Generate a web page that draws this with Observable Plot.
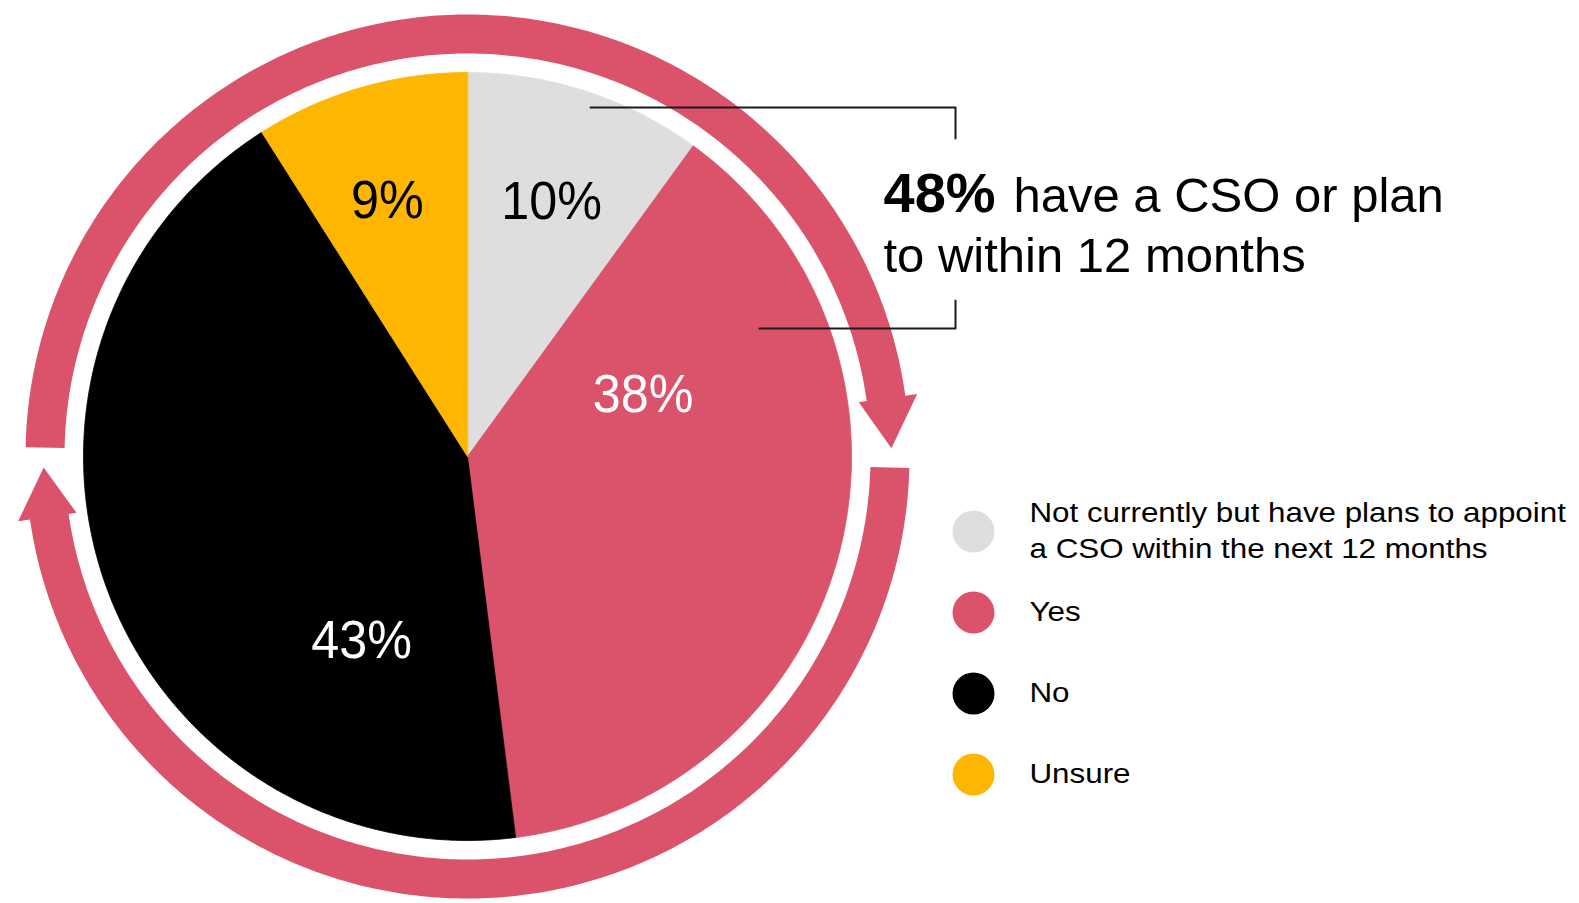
<!DOCTYPE html>
<html>
<head>
<meta charset="utf-8">
<script src="https://cdn.jsdelivr.net/npm/d3@7"></script>
<script src="https://cdn.jsdelivr.net/npm/@observablehq/plot@0.6"></script>
<style>
  html, body { margin: 0; padding: 0; background: #fff; }
  #chart svg { display: block; }
</style>
</head>
<body>
<div id="chart"></div>
<script>
// ---------------- DATA ----------------
const categories = ["Plans within 12 months", "Yes", "No", "Unsure"];
const legendLabels = [
  "Not currently but have plans to appoint\na CSO within the next 12 months",
  "Yes",
  "No",
  "Unsure"
];
const values = [10, 38, 43, 9];
const annotationLines = ["have a CSO or plan", "to within 12 months"];

// ---------------- STYLE / LAYOUT ----------------
const colors = ["#dedede", "#db536a", "#000000", "#ffb600"];
const labelColors = ["#000000", "#ffffff", "#ffffff", "#000000"];
const ringColor = "#db536a";
const FONT = "Liberation Sans, Arial, Helvetica, sans-serif";
const W = 1579, H = 903;
const CX = 467, CY = 456;           // pie centre (px)
const R = 384;                       // pie radius (px)
const RING_IN = 403, RING_OUT = 442; // circular arrow band
const WING_OUT = 454, WING_IN = 395, TIP_R = 424;
// label placement (polar: degrees clockwise from 12 o'clock, radius px)
const labelPlacement = [
  {angle: 18.3, radius: 268},
  {angle: 70.7, radius: 186},
  {angle: 209.8, radius: 213},
  {angle: 342.6, radius: 268}
];

// ---------------- GEOMETRY ----------------
const arcs = d3.pie().sort(null).value(d => d).startAngle(0).endAngle(2 * Math.PI)(values);
const slicePts = [];
arcs.forEach((a, i) => {
  slicePts.push({cat: categories[i], x: 0, y: 0});
  const n = Math.max(4, Math.ceil((a.endAngle - a.startAngle) / (Math.PI / 360)));
  for (let j = 0; j <= n; j++) {
    const t = a.startAngle + (a.endAngle - a.startAngle) * j / n;
    slicePts.push({cat: categories[i], x: R * Math.sin(t), y: -R * Math.cos(t)});
  }
});

const rad = d => d * Math.PI / 180;
function arrowShape(id, a0, aBase, aTip) {
  const P = (r, a) => ({k: id, x: r * Math.cos(rad(a)), y: r * Math.sin(rad(a))});
  const pts = [];
  const n = 240;
  for (let j = 0; j <= n; j++) pts.push(P(RING_OUT, a0 + (aBase - a0) * j / n));
  pts.push(P(WING_OUT, aBase));
  pts.push(P(TIP_R, aTip));
  pts.push(P(WING_IN, aBase));
  for (let j = n; j >= 0; j--) pts.push(P(RING_IN, a0 + (aBase - a0) * j / n));
  return pts;
}
// angles: degrees from +x axis, y pointing down (clockwise)
const ringPts = [
  ...arrowShape("upper", 181.2, 352.1, 358.9),
  ...arrowShape("lower", 1.5, 171.8, 178.5)
];

const labelData = arcs.map((a, i) => {
  const p = labelPlacement[i];
  return {
    text: `${values[i]}%`,
    color: labelColors[i],
    x: p.radius * Math.sin(rad(p.angle)),
    y: -p.radius * Math.cos(rad(p.angle))
  };
});

// bracket linking the grey + pink slices to the annotation (px relative to centre)
const bracketPts = [
  {k: "top", x: 123, y: -349}, {k: "top", x: 488, y: -349}, {k: "top", x: 488, y: -318},
  {k: "bot", x: 292, y: -128}, {k: "bot", x: 488, y: -128}, {k: "bot", x: 488, y: -156}
];

const legendData = legendLabels.map((l, i) => ({cat: categories[i], label: l, y: 75 + i * 81}));
const LEGEND_DOT_X = 506, LEGEND_TEXT_X = 562;

const share = values[0] + values[1];

const svg = Plot.plot({
  width: W,
  height: H,
  margin: 0,
  style: {fontFamily: FONT, background: "#fff"},
  x: {domain: [-CX, W - CX], range: [0, W], axis: null},
  y: {domain: [-CY, H - CY], range: [0, H], axis: null},
  color: {domain: categories, range: colors},
  marks: [
    // circular arrows
    Plot.line(ringPts, {x: "x", y: "y", z: "k", fill: ringColor, stroke: null, curve: "linear-closed"}),
    // pie slices
    Plot.line(slicePts, {x: "x", y: "y", z: "cat", fill: "cat", stroke: "cat", strokeWidth: 0.8, curve: "linear-closed"}),
    // slice labels
    Plot.text(labelData, {x: "x", y: "y", text: "text", fill: "color", fontSize: 53, fontFamily: FONT,
      textAnchor: "middle", lineAnchor: "middle", dy: 0, ariaDescription: "pie-labels"}),
    // bracket
    Plot.line(bracketPts, {x: "x", y: "y", z: "k", stroke: "#1a1a1a", strokeWidth: 2, curve: "linear"}),
    // annotation
    Plot.text([`${share}%`], {x: () => 416, y: () => -245, text: d => d, fontSize: 56, fontWeight: "bold",
      fontFamily: FONT, fill: "#000", textAnchor: "start", lineAnchor: "bottom"}),
    Plot.text([annotationLines[0]], {x: () => 546, y: () => -245, text: d => d, fontSize: 49,
      fontFamily: FONT, fill: "#000", textAnchor: "start", lineAnchor: "bottom"}),
    Plot.text([annotationLines[1]], {x: () => 416, y: () => -185, text: d => d, fontSize: 49,
      fontFamily: FONT, fill: "#000", textAnchor: "start", lineAnchor: "bottom"}),
    // legend
    Plot.dot(legendData, {x: () => LEGEND_DOT_X, y: "y", r: 21, fill: "cat", stroke: null}),
    Plot.text(legendData, {x: () => LEGEND_TEXT_X, y: "y", text: "label", fontSize: 28.5, lineHeight: 1.28,
      fontFamily: FONT, fill: "#000", textAnchor: "start", lineAnchor: "middle", dy: -3,
      ariaDescription: "legend-labels"})
  ]
});

// horizontal glyph proportions of the reference text
function squeeze(selector, sx) {
  svg.querySelectorAll(selector).forEach(t => {
    const tr = t.getAttribute("transform") || "";
    t.setAttribute("transform", `${tr} scale(${sx},1)`.trim());
  });
}
squeeze('g[aria-description="pie-labels"] text', 0.95);
squeeze('g[aria-description="legend-labels"] text', 1.1);

document.getElementById("chart").appendChild(svg);
</script>
</body>
</html>
